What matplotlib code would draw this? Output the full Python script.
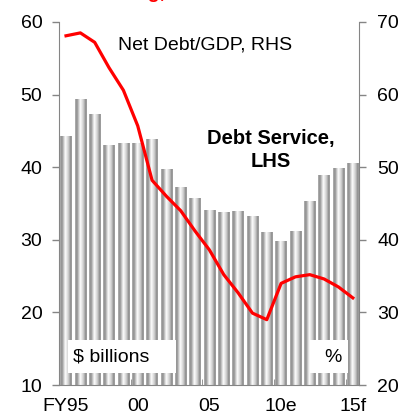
import matplotlib.pyplot as plt
import numpy as np
from matplotlib.colors import LinearSegmentedColormap
from matplotlib.patches import Rectangle

plt.rcParams['font.family'] = ['Liberation Sans', 'DejaVu Sans']

# Data
years = list(range(1995, 2016))
debt_service = [44.3, 49.4, 47.3, 43.1, 43.3, 43.3, 43.9, 39.8, 37.3, 35.8, 34.1,
                33.8, 34.0, 33.3, 31.1, 29.8, 31.2, 35.3, 38.9, 39.9, 40.6]  # $bn, LHS
net_debt_gdp = [68.1, 68.5, 67.2, 63.7, 60.6, 55.7, 48.2, 46.0, 44.0, 41.2, 38.6,
                35.2, 32.7, 29.9, 29.0, 34.0, 34.9, 35.2, 34.6, 33.5, 32.0]  # %, RHS
tick_years = [1995, 2000, 2005, 2010, 2015]
tick_labels = ['FY95', '00', '05', '10e', '15f']

x = np.arange(len(years))
grey = '#858585'
ymin = 10

fig = plt.figure(figsize=(4.11, 4.19), dpi=100)
ax = fig.add_axes([59 / 411, 34 / 419, 300 / 411, 363 / 419])
ax2 = ax.twinx()

# cylinder-like shaded bars
cmap = LinearSegmentedColormap.from_list(
    'cyl', [(0, '#b4b4b4'), (0.15, '#8c8c8c'), (0.45, '#ffffff'),
            (0.75, '#c4c4c4'), (0.9, '#8a8a8a'), (1, '#a8a8a8')])
grad = np.linspace(0, 1, 64).reshape(1, -1)
bars = ax.bar(x, debt_service, width=0.8, color='none', edgecolor='none')
for b in bars:
    bx, bw, bh = b.get_x(), b.get_width(), b.get_height()
    im = ax.imshow(grad, extent=[bx, bx + bw, ymin, bh], aspect='auto', cmap=cmap,
                   interpolation='bilinear', zorder=2)
    im.set_clip_path(b)

ax2.plot(x, net_debt_gdp, color='#ff0000', lw=2.3, zorder=3)

ax.set_xlim(-0.49, 20.43)
ax.set_ylim(ymin, 60)
ax2.set_ylim(20, 70)
ax.set_yticks(range(10, 61, 10))
ax2.set_yticks(range(20, 71, 10))

ax.set_xticks([years.index(y) for y in tick_years])
ax.set_xticklabels(tick_labels)
ax.set_xticks(np.arange(-0.5, 21, 5)[1:], minor=True)
ax.tick_params(axis='x', which='major', length=0, pad=9, labelsize=14)
ax.tick_params(axis='x', which='minor', length=4, direction='in', color=grey)
ax.tick_params(axis='y', length=5, width=1, color=grey, pad=7, labelsize=14)
ax2.tick_params(axis='y', length=5, width=1, color=grey, pad=8, labelsize=14)

for a in (ax, ax2):
    a.spines['top'].set_visible(False)
    for s in ('left', 'right', 'bottom'):
        a.spines[s].set_color(grey)
ax.spines['right'].set_visible(False)
ax2.spines['left'].set_visible(False)
ax2.spines['bottom'].set_visible(False)

# labels and unit boxes
ax2.add_patch(Rectangle((0.03, 0.033), 0.36, 0.091, transform=ax2.transAxes,
                        facecolor='white', edgecolor='none', zorder=4))
ax2.text(0.047, 0.077, '$ billions', transform=ax2.transAxes, fontsize=14,
         va='center', ha='left', zorder=5)
ax2.add_patch(Rectangle((0.837, 0.033), 0.126, 0.091, transform=ax2.transAxes,
                        facecolor='white', edgecolor='none', zorder=4))
ax2.text(0.913, 0.077, '%', transform=ax2.transAxes, fontsize=14,
         va='center', ha='center', zorder=5)

ax2.text(0.197, 0.937, 'Net Debt/GDP, RHS', transform=ax2.transAxes, fontsize=14,
         va='center', ha='left')
ax2.text(0.707, 0.647, 'Debt Service,\nLHS', transform=ax2.transAxes, fontsize=14.5,
         fontweight='bold', va='center', ha='center', linespacing=1.3)

# title cut off at the top of the original image
fig.text(165 / 411, 1.004, 'Net debt falling,', color='#ff0000', fontsize=14,
         fontweight='bold', ha='right', va='baseline')

fig.savefig('out.png', dpi=100)
